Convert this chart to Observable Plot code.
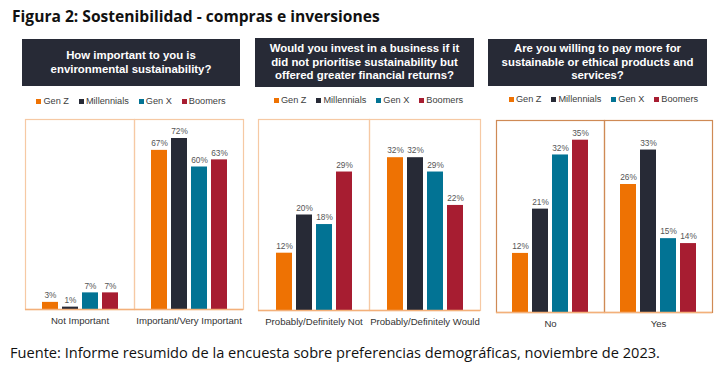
<!DOCTYPE html>
<html>
<head>
<meta charset="utf-8">
<script src="https://cdn.jsdelivr.net/npm/d3@7"></script>
<script src="https://cdn.jsdelivr.net/npm/@observablehq/plot@0.6"></script>
<style>
  html, body { margin: 0; padding: 0; background: #fff; }
  body { width: 727px; height: 383px; position: relative; overflow: hidden; font-family: "Liberation Sans", Arial, sans-serif; }
  .title { position: absolute; left: 12px; top: 5px; font-family: "Open Sans", sans-serif; font-weight: 700; font-size: 15.6px; color: #111; white-space: nowrap; }
  .caption { position: absolute; left: 10px; top: 342px; font-family: "Open Sans", sans-serif; font-size: 14.6px; color: #111; white-space: nowrap; }
  .hdr { position: absolute; background: #272a36; color: #fff; font-weight: 700; font-size: 11.4px; line-height: 13.5px; text-align: center; display: flex; align-items: center; justify-content: center; box-sizing: border-box; padding: 0 2px; white-space: pre-line; }
  .legend { position: absolute; font-size: 9.2px; color: #404040; white-space: nowrap; display: flex; justify-content: center; gap: 10px; }
  .legend span { display: inline-flex; align-items: center; }
  .legend i { display: inline-block; width: 5px; height: 5px; margin-right: 2px; }
  .panel { position: absolute; }
</style>
</head>
<body>
<div class="title">Figura 2: Sostenibilidad - compras e inversiones</div>
<div class="caption">Fuente: Informe resumido de la encuesta sobre preferencias demográficas, noviembre de 2023.</div>
<script>
const generations = ["Gen Z", "Millennials", "Gen X", "Boomers"];
const genColors = ["#ee7203", "#272a36", "#027394", "#a71d31"];

const q1Title = ["How important to you is", "environmental sustainability?"];
const q1Categories = ["Not Important", "Important/Very Important"];
const q1Values = [[3, 1, 7, 7], [67, 72, 60, 63]];

const q2Title = ["Would you invest in a business if it", "did not prioritise sustainability but", "offered greater financial returns?"];
const q2Categories = ["Probably/Definitely Not", "Probably/Definitely Would"];
const q2Values = [[12, 20, 18, 29], [32, 32, 29, 22]];

const q3Title = ["Are you willing to pay more for", "sustainable or ethical products and", "services?"];
const q3Categories = ["No", "Yes"];
const q3Values = [[12, 21, 32, 35], [26, 33, 15, 14]];

const panels = [
  {title: q1Title, cats: q1Categories, vals: q1Values, yMax: 80,
   hdr: {x: 22, y: 39, w: 218, h: 47}, legendY: 96, legendX: 22, legendW: 218,
   frame: {x: 25, y: 119, w: 218, h: 190}, stroke: "#f6c9a4", base: "#f3b07a"},
  {title: q2Title, cats: q2Categories, vals: q2Values, yMax: 40,
   hdr: {x: 255, y: 38, w: 219, h: 49}, legendY: 95, legendX: 257, legendW: 223,
   frame: {x: 257, y: 119, w: 223, h: 191}, stroke: "#f6c9a4", base: "#f3b07a"},
  {title: q3Title, cats: q3Categories, vals: q3Values, yMax: 39,
   hdr: {x: 488, y: 39, w: 219, h: 47}, legendY: 94, legendX: 495, legendW: 217,
   frame: {x: 495, y: 120, w: 217, h: 192}, stroke: "#cf8a55", base: "#f3b07a"}
];

const mL = 2, mR = 2, mT = 2, mB = 24;

for (const p of panels) {
  const hdr = document.createElement("div");
  hdr.className = "hdr";
  Object.assign(hdr.style, {left: p.hdr.x + "px", top: p.hdr.y + "px", width: p.hdr.w + "px", height: p.hdr.h + "px"});
  hdr.textContent = p.title.join("\n");
  document.body.appendChild(hdr);

  const leg = document.createElement("div");
  leg.className = "legend";
  Object.assign(leg.style, {left: p.legendX + "px", top: p.legendY + "px", width: p.legendW + "px"});
  generations.forEach((g, i) => {
    const s = document.createElement("span");
    const sw = document.createElement("i");
    sw.style.background = genColors[i];
    s.appendChild(sw);
    s.appendChild(document.createTextNode(g));
    leg.appendChild(s);
  });
  document.body.appendChild(leg);

  const data = [];
  p.cats.forEach((c, ci) => generations.forEach((g, gi) => data.push({cat: c, gen: g, value: p.vals[ci][gi]})));

  const chart = Plot.plot({
    width: p.frame.w + mL + mR,
    height: p.frame.h + mT + mB,
    marginLeft: mL, marginRight: mR, marginTop: mT, marginBottom: mB,
    style: {fontFamily: "Liberation Sans, Arial, sans-serif", background: "transparent"},
    fx: {domain: p.cats, padding: 0, label: null},
    x: {domain: generations, paddingInner: 0.2, paddingOuter: 0.8, axis: null},
    y: {domain: [0, p.yMax], axis: null},
    color: {domain: generations, range: genColors},
    marks: [
      Plot.frame({stroke: p.stroke, strokeWidth: 1.2}),
      Plot.barY(data, {fx: "cat", x: "gen", y: "value", fill: "gen"}),
      Plot.text(data, {fx: "cat", x: "gen", y: "value", text: d => d.value + "%", dy: -7, fontSize: 8.3, fill: "#555"}),
      Plot.ruleY([0], {stroke: p.base, strokeWidth: 1.5}),
      Plot.axisFx({anchor: "bottom", tickSize: 0, tickPadding: 8, fontSize: 9.6, label: null, color: "#333"})
    ]
  });
  const wrap = document.createElement("div");
  wrap.className = "panel";
  wrap.style.left = (p.frame.x - mL) + "px";
  wrap.style.top = (p.frame.y - mT) + "px";
  wrap.appendChild(chart);
  document.body.appendChild(wrap);
}
</script>
</body>
</html>
